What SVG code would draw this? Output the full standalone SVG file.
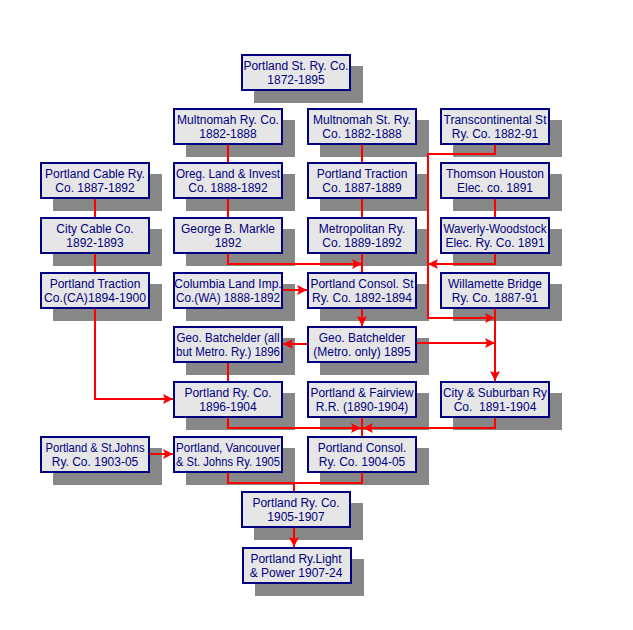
<svg xmlns="http://www.w3.org/2000/svg" width="633" height="630" viewBox="0 0 633 630">
<style>
.sh{fill:#878787}
.bx{fill:#e6e6e6;stroke:#000080;stroke-width:2}
.t{font-family:"Liberation Sans",Arial,sans-serif;font-size:12px;fill:#000080;text-anchor:middle}
.c{fill:none;stroke:#ff0000;stroke-width:2}
.a{marker-end:url(#ah)}
</style>
<defs>
<marker id="ah" markerUnits="userSpaceOnUse" markerWidth="11" markerHeight="10" refX="10" refY="5" orient="auto" viewBox="0 0 11 10">
<path d="M0,0 L10,5 L0,10 L2,5 z" fill="#ff0000"/>
</marker>
</defs>
<rect width="633" height="630" fill="#ffffff"/>
<g id="n_psr"><rect class="sh" x="254" y="66" width="109" height="37"/><rect class="bx" x="242" y="55" width="108" height="35"/><text class="t" x="296" y="70">Portland St. Ry. Co.</text><text class="t" x="296" y="84">1872-1895</text></g>
<g id="n_mrc"><rect class="sh" x="186" y="120" width="109" height="37"/><rect class="bx" x="174" y="109" width="108" height="35"/><text class="t" x="228" y="124">Multnomah Ry. Co.</text><text class="t" x="228" y="138">1882-1888</text></g>
<g id="n_msr"><rect class="sh" x="320" y="120" width="109" height="37"/><rect class="bx" x="308" y="109" width="108" height="35"/><text class="t" x="362" y="124">Multnomah St. Ry.</text><text class="t" x="362" y="138">Co. 1882-1888</text></g>
<g id="n_tsr"><rect class="sh" x="453" y="120" width="109" height="37"/><rect class="bx" x="441" y="109" width="108" height="35"/><text class="t" x="495" y="124">Transcontinental St</text><text class="t" x="495" y="138">Ry. Co. 1882-91</text></g>
<g id="n_pcr"><rect class="sh" x="53" y="174" width="109" height="37"/><rect class="bx" x="41" y="163" width="108" height="35"/><text class="t" x="95" y="178">Portland Cable Ry.</text><text class="t" x="95" y="192">Co. 1887-1892</text></g>
<g id="n_olic"><rect class="sh" x="186" y="174" width="109" height="37"/><rect class="bx" x="174" y="163" width="108" height="35"/><text class="t" x="228" y="178" textLength="104" lengthAdjust="spacingAndGlyphs">Oreg. Land &amp; Invest</text><text class="t" x="228" y="192">Co. 1888-1892</text></g>
<g id="n_pt87"><rect class="sh" x="320" y="174" width="109" height="37"/><rect class="bx" x="308" y="163" width="108" height="35"/><text class="t" x="362" y="178">Portland Traction</text><text class="t" x="362" y="192">Co. 1887-1889</text></g>
<g id="n_th"><rect class="sh" x="453" y="174" width="109" height="37"/><rect class="bx" x="441" y="163" width="108" height="35"/><text class="t" x="495" y="178">Thomson Houston</text><text class="t" x="495" y="192">Elec. co. 1891</text></g>
<g id="n_ccc"><rect class="sh" x="53" y="229" width="109" height="37"/><rect class="bx" x="41" y="218" width="108" height="35"/><text class="t" x="95" y="233">City Cable Co.</text><text class="t" x="95" y="247">1892-1893</text></g>
<g id="n_gbm"><rect class="sh" x="186" y="229" width="109" height="37"/><rect class="bx" x="174" y="218" width="108" height="35"/><text class="t" x="228" y="233">George B. Markle</text><text class="t" x="228" y="247">1892</text></g>
<g id="n_mr"><rect class="sh" x="320" y="229" width="109" height="37"/><rect class="bx" x="308" y="218" width="108" height="35"/><text class="t" x="362" y="233">Metropolitan Ry.</text><text class="t" x="362" y="247">Co. 1889-1892</text></g>
<g id="n_ww"><rect class="sh" x="453" y="229" width="109" height="37"/><rect class="bx" x="441" y="218" width="108" height="35"/><text class="t" x="495" y="233" textLength="103" lengthAdjust="spacingAndGlyphs">Waverly-Woodstock</text><text class="t" x="495" y="247">Elec. Ry. Co. 1891</text></g>
<g id="n_ptca"><rect class="sh" x="53" y="284" width="109" height="37"/><rect class="bx" x="41" y="273" width="108" height="35"/><text class="t" x="95" y="288">Portland Traction</text><text class="t" x="95" y="302" textLength="102" lengthAdjust="spacingAndGlyphs">Co.(CA)1894-1900</text></g>
<g id="n_cli"><rect class="sh" x="186" y="284" width="109" height="37"/><rect class="bx" x="174" y="273" width="108" height="35"/><text class="t" x="228" y="288">Columbia Land Imp.</text><text class="t" x="228" y="302" textLength="104" lengthAdjust="spacingAndGlyphs">Co.(WA) 1888-1892</text></g>
<g id="n_pcs"><rect class="sh" x="320" y="284" width="109" height="37"/><rect class="bx" x="308" y="273" width="108" height="35"/><text class="t" x="362" y="288" textLength="103" lengthAdjust="spacingAndGlyphs">Portland Consol. St</text><text class="t" x="362" y="302">Ry. Co. 1892-1894</text></g>
<g id="n_wb"><rect class="sh" x="453" y="284" width="109" height="37"/><rect class="bx" x="441" y="273" width="108" height="35"/><text class="t" x="495" y="288">Willamette Bridge</text><text class="t" x="495" y="302">Ry. Co. 1887-91</text></g>
<g id="n_gba"><rect class="sh" x="186" y="338" width="109" height="37"/><rect class="bx" x="174" y="327" width="108" height="35"/><text class="t" x="228" y="342" textLength="103" lengthAdjust="spacingAndGlyphs">Geo. Batchelder (all</text><text class="t" x="228" y="356" textLength="104" lengthAdjust="spacingAndGlyphs">but Metro. Ry.) 1896</text></g>
<g id="n_gbm95"><rect class="sh" x="320" y="338" width="109" height="37"/><rect class="bx" x="308" y="327" width="108" height="35"/><text class="t" x="362" y="342">Geo. Batchelder</text><text class="t" x="362" y="356">(Metro. only) 1895</text></g>
<g id="n_pr96"><rect class="sh" x="186" y="393" width="109" height="37"/><rect class="bx" x="174" y="382" width="108" height="35"/><text class="t" x="228" y="397">Portland Ry. Co.</text><text class="t" x="228" y="411">1896-1904</text></g>
<g id="n_pf"><rect class="sh" x="320" y="393" width="109" height="37"/><rect class="bx" x="308" y="382" width="108" height="35"/><text class="t" x="362" y="397" textLength="103" lengthAdjust="spacingAndGlyphs">Portland &amp; Fairview</text><text class="t" x="362" y="411">R.R. (1890-1904)</text></g>
<g id="n_cs"><rect class="sh" x="453" y="393" width="109" height="37"/><rect class="bx" x="441" y="382" width="108" height="35"/><text class="t" x="495" y="397" textLength="104" lengthAdjust="spacingAndGlyphs">City &amp; Suburban Ry</text><text class="t" x="495" y="411" xml:space="preserve">Co.  1891-1904</text></g>
<g id="n_psj"><rect class="sh" x="53" y="448" width="109" height="37"/><rect class="bx" x="41" y="437" width="108" height="35"/><text class="t" x="95" y="452" textLength="99" lengthAdjust="spacingAndGlyphs">Portland &amp; St.Johns</text><text class="t" x="95" y="466">Ry. Co. 1903-05</text></g>
<g id="n_pvsj"><rect class="sh" x="186" y="448" width="109" height="37"/><rect class="bx" x="174" y="437" width="108" height="35"/><text class="t" x="228" y="452" textLength="104" lengthAdjust="spacingAndGlyphs">Portland, Vancouver</text><text class="t" x="228" y="466" textLength="104" lengthAdjust="spacingAndGlyphs">&amp; St. Johns Ry. 1905</text></g>
<g id="n_pc04"><rect class="sh" x="320" y="448" width="109" height="37"/><rect class="bx" x="308" y="437" width="108" height="35"/><text class="t" x="362" y="452">Portland Consol.</text><text class="t" x="362" y="466">Ry. Co. 1904-05</text></g>
<g id="n_pr05"><rect class="sh" x="254" y="503" width="109" height="37"/><rect class="bx" x="242" y="492" width="108" height="35"/><text class="t" x="296" y="507">Portland Ry. Co.</text><text class="t" x="296" y="521">1905-1907</text></g>
<g id="n_prlp"><rect class="sh" x="255" y="559" width="109" height="37"/><rect class="bx" x="243" y="548" width="108" height="35"/><text class="t" x="296" y="563">Portland Ry.Light</text><text class="t" x="296" y="577">&amp; Power 1907-24</text></g>
<g id="connectors">
<path class="c" d="M228,145 V162"/>
<path class="c" d="M228,199 V217"/>
<path class="c a" d="M228,254 V264 H362"/>
<path class="c" d="M362,145 V162"/>
<path class="c" d="M362,199 V217"/>
<path class="c" d="M362,254 V272"/>
<path class="c" d="M95,199 V217"/>
<path class="c" d="M95,254 V272"/>
<path class="c a" d="M95,309 V399 H173"/>
<path class="c a" d="M283,290 H307"/>
<path class="c a" d="M495,145 V154 H428 V318 H495"/>
<path class="c" d="M495,199 V217"/>
<path class="c a" d="M495,254 V264 H428"/>
<path class="c a" d="M495,309 V381"/>
<path class="c a" d="M362,309 V326"/>
<path class="c a" d="M307,344 H283"/>
<path class="c a" d="M417,343 H495"/>
<path class="c" d="M228,363 V381"/>
<path class="c a" d="M228,418 V428 H361"/>
<path class="c a" d="M495,418 V428 H363"/>
<path class="c" d="M362,418 V436"/>
<path class="c a" d="M150,454 H173"/>
<path class="c" d="M228,473 V483 H362 V473"/>
<path class="c" d="M294,483 V491"/>
<path class="c a" d="M294,528 V547"/>
</g>
</svg>
